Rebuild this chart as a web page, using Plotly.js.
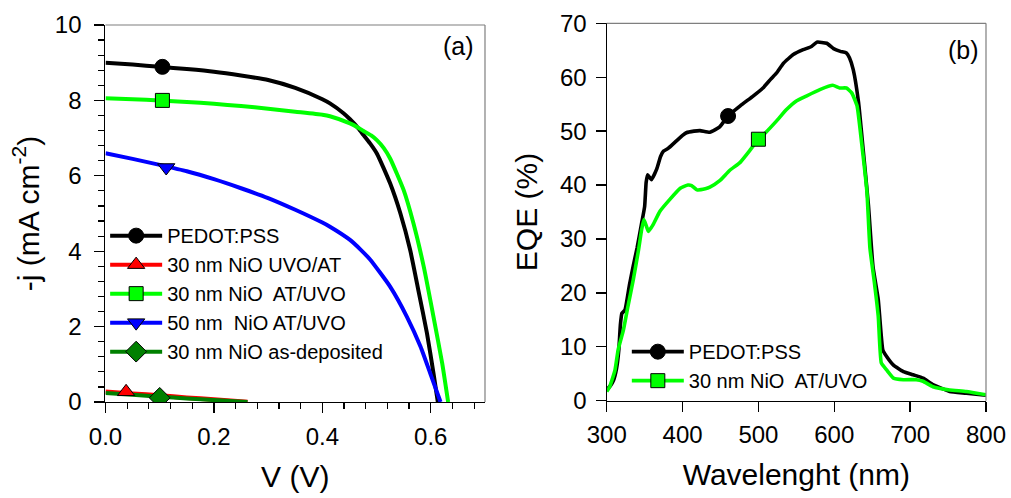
<!DOCTYPE html>
<html>
<head>
<meta charset="utf-8">
<script src="https://cdn.plot.ly/plotly-3.0.1.min.js"></script>
<style>
  html, body { margin: 0; padding: 0; background: #fff; }
  #chart { width: 1011px; height: 498px; }
</style>
</head>
<body>
<div id="chart"></div>
<script>
// ---------- Panel (a): J-V curves ----------
const seriesNames = ['PEDOT:PSS', '30 nm NiO UVO/AT', '30 nm NiO  AT/UVO', '50 nm  NiO AT/UVO', '30 nm NiO as-deposited'];

const vPedot = [0, 0.05, 0.1, 0.15, 0.2, 0.25, 0.3, 0.35, 0.4, 0.414, 0.439, 0.451, 0.467, 0.476, 0.488, 0.501, 0.525, 0.544, 0.562, 0.577, 0.593, 0.605, 0.613];
const jPedot = [9.0, 8.95, 8.89, 8.83, 8.76, 8.66, 8.54, 8.33, 8.03, 7.92, 7.66, 7.5, 7.25, 7.08, 6.86, 6.58, 5.8, 5.0, 4.03, 2.97, 1.82, 0.76, 0.0];

const vAtUvo30 = [0, 0.05, 0.1, 0.15, 0.2, 0.25, 0.3, 0.35, 0.4, 0.414, 0.451, 0.467, 0.476, 0.49, 0.501, 0.513, 0.525, 0.55, 0.568, 0.587, 0.605, 0.621, 0.632];
const jAtUvo30 = [8.06, 8.03, 8.0, 7.96, 7.91, 7.85, 7.78, 7.7, 7.62, 7.58, 7.39, 7.27, 7.19, 7.07, 6.94, 6.74, 6.46, 5.62, 4.74, 3.59, 2.26, 1.03, 0.0];

const vAtUvo50 = [0, 0.05, 0.1, 0.15, 0.2, 0.25, 0.3, 0.35, 0.4, 0.414, 0.451, 0.47, 0.488, 0.525, 0.556, 0.581, 0.599, 0.618];
const jAtUvo50 = [6.6, 6.45, 6.29, 6.12, 5.91, 5.67, 5.41, 5.1, 4.76, 4.65, 4.3, 4.05, 3.78, 3.06, 2.26, 1.47, 0.76, 0.0];

const vUvoAt = [0, 0.05, 0.1, 0.15, 0.2, 0.262];
const jUvoAt = [0.27, 0.22, 0.17, 0.115, 0.065, 0.0];

const vAsDep = [0, 0.05, 0.1, 0.15, 0.2, 0.262];
const jAsDep = [0.24, 0.19, 0.14, 0.095, 0.05, 0.0];

// single marker positions on each J-V curve
const markV = [0.105, 0.038, 0.105, 0.112, 0.1];
const markJ = [8.89, 0.27, 8.0, 6.22, 0.11];

// ---------- Panel (b): EQE ----------
const eqeNames = ['PEDOT:PSS', '30 nm NiO  AT/UVO'];
const lamPedot = [300, 305, 309, 313, 316, 318, 320, 324, 330, 335, 340, 346, 350, 352, 354, 359, 366, 371, 375, 381, 392, 400, 405, 415, 423, 436, 449, 460, 476, 493, 506, 516, 524, 533, 546, 559, 570, 577, 590, 599, 608, 616, 620, 625, 632, 638, 645, 651, 658, 664, 669, 678, 691, 704, 717, 730, 752, 774, 800];
const eqePedot = [2.0, 2.8, 3.8, 6.0, 9.5, 14, 16.2, 16.8, 21.5, 25, 28.3, 32.9, 36, 40.5, 41.9, 41.0, 43, 45.3, 46.3, 46.8, 48.2, 49.2, 49.7, 50.0, 50.1, 49.8, 50.8, 52.8, 54.7, 56.5, 58, 59.6, 60.8, 62.6, 64.2, 65.1, 65.7, 66.5, 66.3, 65.3, 64.8, 64.5, 63.6, 61.4, 55.3, 46.7, 36.3, 24.9, 18.7, 9.4, 8.2, 6.6, 5.4, 4.8, 4.2, 3.0, 1.7, 1.4, 1.0];

const lamNio = [300, 304, 311, 315, 322, 328, 335, 342, 346, 349, 352, 355, 361, 370, 383, 397, 407, 412, 419, 430, 436, 449, 462, 476, 487, 500, 510, 524, 537, 550, 563, 581, 598, 607, 616, 623, 630, 636, 643, 647, 653, 658, 662, 669, 678, 691, 708, 717, 730, 752, 774, 800];
const eqeNio = [1.7, 2.6, 5.7, 9.4, 13.1, 17.5, 22.4, 28, 31.7, 33.6, 32.5, 31.4, 32.6, 35.1, 37.3, 39.4, 40.0, 39.9, 39.1, 39.3, 39.6, 40.8, 42.7, 44.2, 46.1, 48.5, 49.8, 51.9, 54, 55.6, 56.5, 57.7, 58.5, 58, 58, 57.1, 54.7, 47.9, 38.8, 28.3, 21.8, 15.6, 7.0, 5.7, 4.2, 3.9, 3.9, 3.6, 2.6, 2.0, 1.7, 1.1];

const eqeMarkLam = [460, 500];
const eqeMarkVal = [52.8, 48.5];

// ---------- styles ----------
const FONT = 'Arial, "Liberation Sans", Helvetica, sans-serif';
const colA = ['#000000', '#ff0000', '#00ff00', '#0000ff', '#008000'];
const symA = ['circle', 'triangle-up', 'square', 'triangle-down', 'diamond'];
const sizeA = [15, 15, 14, 15, 16];
const LW = 4;

const curvesA = [
  [vPedot, jPedot, 0],
  [vAtUvo30, jAtUvo30, 2],
  [vAtUvo50, jAtUvo50, 3],
  [vUvoAt, jUvoAt, 1],
  [vAsDep, jAsDep, 4]
];

const traces = [];
curvesA.forEach(([x, y, k]) => {
  traces.push({
    x: x, y: y, xaxis: 'x', yaxis: 'y', type: 'scatter', mode: 'lines',
    line: { color: colA[k], width: k === 1 ? 4.6 : LW, shape: 'spline', smoothing: 0.5 },
    showlegend: false, hoverinfo: 'skip'
  });
});
// marker traces (also carry the legend entries), in legend order
[0, 1, 2, 3, 4].forEach(k => {
  traces.push({
    x: [markV[k]], y: [markJ[k]], xaxis: 'x', yaxis: 'y', type: 'scatter',
    mode: 'lines+markers', name: seriesNames[k], legend: 'legend',
    line: { color: colA[k], width: LW },
    marker: { symbol: symA[k], size: sizeA[k], color: colA[k], line: { color: '#000', width: 1 } },
    showlegend: true
  });
});

const colB = ['#000000', '#00ff00'];
const symB = ['circle', 'square'];
const sizeB = [15, 14];
[[lamPedot, eqePedot], [lamNio, eqeNio]].forEach(([x, y], k) => {
  traces.push({
    x: x, y: y, xaxis: 'x2', yaxis: 'y2', type: 'scatter', mode: 'lines',
    line: { color: colB[k], width: 3.6, shape: 'spline', smoothing: 0.4 },
    showlegend: false, hoverinfo: 'skip'
  });
});
[0, 1].forEach(k => {
  traces.push({
    x: [eqeMarkLam[k]], y: [eqeMarkVal[k]], xaxis: 'x2', yaxis: 'y2', type: 'scatter',
    mode: 'lines+markers', name: eqeNames[k], legend: 'legend2',
    line: { color: colB[k], width: 3.6 },
    marker: { symbol: symB[k], size: sizeB[k], color: colB[k], line: { color: '#000', width: 1 } },
    showlegend: true
  });
});

const tickFont = { family: FONT, size: 24, color: '#000' };
const titleFont = { family: FONT, size: 30, color: '#000' };

const baseAxis = {
  showgrid: false, zeroline: false, showline: true, linecolor: '#000', linewidth: 1.2,
  ticks: 'outside', ticklen: 10, tickwidth: 1.3, tickcolor: '#000',
  tickfont: tickFont, automargin: false, mirror: false
};

const legendFont = { family: FONT, size: 20, color: '#000' };

const layout = {
  width: 1011, height: 498,
  margin: { l: 0, r: 0, t: 0, b: 0 },
  paper_bgcolor: '#fff', plot_bgcolor: '#fff',
  font: { family: FONT, color: '#000' },
  xaxis: Object.assign({}, baseAxis, {
    domain: [0.10435, 0.47972], anchor: 'y', range: [0, 0.7],
    tickmode: 'linear', tick0: 0, dtick: 0.2, tickformat: '.1f', ticklabelstandoff: 3,
    minor: { dtick: 0.04, ticks: 'outside', ticklen: 6, tickwidth: 1.2, tickcolor: '#000', showgrid: false },
    title: { text: 'V (V)', font: titleFont, standoff: 17 }
  }),
  yaxis: Object.assign({}, baseAxis, {
    domain: [0.19277, 0.94980], anchor: 'x', range: [0, 10],
    tickmode: 'linear', tick0: 0, dtick: 2, ticklabelstandoff: 8,
    minor: { dtick: 0.4, ticks: 'outside', ticklen: 6, tickwidth: 1.2, tickcolor: '#000', showgrid: false },
    title: { text: '-j (mA cm<sup>-2</sup>)', font: titleFont, standoff: 6 }
  }),
  xaxis2: Object.assign({}, baseAxis, {
    domain: [0.60010, 0.97527], anchor: 'y2', range: [300, 800],
    tickmode: 'linear', tick0: 300, dtick: 100, ticklabelstandoff: 2,
    title: { text: 'Wavelenght (nm)', font: titleFont, standoff: 17 }
  }),
  yaxis2: Object.assign({}, baseAxis, {
    domain: [0.19538, 0.95321], anchor: 'x2', range: [0, 70],
    tickmode: 'linear', tick0: 0, dtick: 10, ticklabelstandoff: 4,
    title: { text: 'EQE (%)', font: titleFont, standoff: 13 }
  }),
  legend: {
    x: 0.104, y: 0.566, xanchor: 'left', yanchor: 'top',
    bgcolor: 'rgba(0,0,0,0)', borderwidth: 0,
    font: legendFont, itemwidth: 52, traceorder: 'normal', tracegroupgap: 0
  },
  legend2: {
    x: 0.62, y: 0.333, xanchor: 'left', yanchor: 'top',
    bgcolor: 'rgba(0,0,0,0)', borderwidth: 0,
    font: legendFont, itemwidth: 52, traceorder: 'normal', tracegroupgap: 0
  },
  shapes: [
    { type: 'line', xref: 'x domain', yref: 'y domain', x0: 0, x1: 1, y0: 1, y1: 1, line: { color: '#7f7f7f', width: 1.2 } },
    { type: 'line', xref: 'x domain', yref: 'y domain', x0: 1, x1: 1, y0: 0, y1: 1, line: { color: '#7f7f7f', width: 1.2 } },
    { type: 'line', xref: 'x2 domain', yref: 'y2 domain', x0: 0, x1: 1, y0: 1, y1: 1, line: { color: '#7f7f7f', width: 1.2 } },
    { type: 'line', xref: 'x2 domain', yref: 'y2 domain', x0: 1, x1: 1, y0: 0, y1: 1, line: { color: '#7f7f7f', width: 1.2 } }
  ],
  annotations: [
    { text: '(a)', xref: 'x domain', yref: 'y domain', x: 0.975, y: 0.943, xanchor: 'right', yanchor: 'middle', showarrow: false, font: { family: FONT, size: 25, color: '#000' } },
    { text: '(b)', xref: 'x2 domain', yref: 'y2 domain', x: 0.986, y: 0.929, xanchor: 'right', yanchor: 'middle', showarrow: false, font: { family: FONT, size: 25, color: '#000' } }
  ]
};

Plotly.newPlot('chart', traces, layout, { displayModeBar: false, staticPlot: true });
</script>
</body>
</html>
